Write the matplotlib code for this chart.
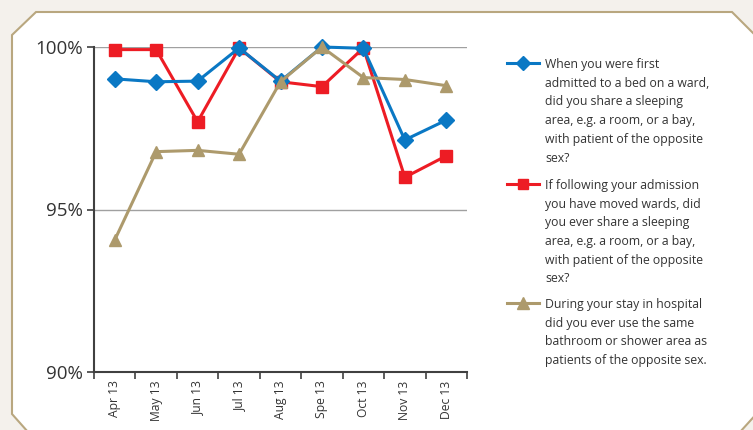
import matplotlib.pyplot as plt
from matplotlib.patches import Polygon
from matplotlib.lines import Line2D

plt.rcParams['font.family'] = ['Open Sans', 'DejaVu Sans']

months = ["Apr 13", "May 13", "Jun 13", "Jul 13", "Aug 13", "Spe 13", "Oct 13", "Nov 13", "Dec 13"]
first_bed = [99.02, 98.93, 98.95, 99.97, 98.95, 100.0, 99.96, 97.14, 97.75]
moved_wards = [99.92, 99.92, 97.70, 99.97, 98.93, 98.78, 99.97, 95.99, 96.65]
bathroom = [94.06, 96.78, 96.82, 96.70, 98.93, 100.0, 99.06, 99.00, 98.81]

labels = [
    "When you were first\nadmitted to a bed on a ward,\ndid you share a sleeping\narea, e.g. a room, or a bay,\nwith patient of the opposite\nsex?",
    "If following your admission\nyou have moved wards, did\nyou ever share a sleeping\narea, e.g. a room, or a bay,\nwith patient of the opposite\nsex?",
    "During your stay in hospital\ndid you ever use the same\nbathroom or shower area as\npatients of the opposite sex.",
]

W, H = 753, 430
fig = plt.figure(figsize=(W / 100, H / 100), dpi=100, facecolor='#f4f1ec')

# white panel with cut corners
pts = [(12, 35), (36, 12), (732, 12), (760, 40), (760, 410), (740, 432), (28, 432), (12, 414)]
fig.patches.append(Polygon([(x / W, 1 - y / H) for x, y in pts], closed=True,
                           transform=fig.transFigure, facecolor='white',
                           edgecolor='#b9a77f', linewidth=1.5, zorder=-5))

ax = fig.add_axes([94 / W, 1 - 372 / H, (467 - 94) / W, (372 - 47) / H])
ax.set_zorder(2)
ax.set_facecolor('none')

x = range(len(months))
styles = [
    (first_bed, '#0a78c4', 'D', 8, 4),
    (moved_wards, '#ed1c24', 's', 8, 3),
    (bathroom, '#ad9a6c', '^', 9, 5),
]
for vals, col, mk, ms, z in styles:
    ax.plot(x, vals, color=col, marker=mk, markersize=ms, linewidth=2.2, clip_on=False, zorder=z)

ax.set_xlim(-0.5, len(months) - 0.5)
ax.set_ylim(90, 100)
ax.set_yticks([90, 95, 100])
ax.set_yticklabels(["90%", "95%", "100%"], fontsize=13.5, color='#333333')
for yv in [95, 100]:
    ax.axhline(yv, color='#a0a0a0', linewidth=1, zorder=1)

ax.set_xticks([i - 0.5 for i in range(len(months) + 1)], minor=False)
ax.set_xticklabels([])
ax.set_xticks(list(x), minor=True)
ax.set_xticklabels(months, minor=True, rotation=90, fontsize=8.7, color='#333333')
ax.tick_params(axis='x', which='minor', length=0, pad=6)
ax.tick_params(axis='x', which='major', length=5, width=1.2, color='#404040', direction='out')
ax.tick_params(axis='y', length=5, width=1.2, color='#404040', pad=3)

for s in ['top', 'right']:
    ax.spines[s].set_visible(False)
for s in ['left', 'bottom']:
    ax.spines[s].set_color('#404040')
    ax.spines[s].set_linewidth(1.5)

# legend drawn by hand to match the wrapped labels
tops = [62.5, 183.5, 302.5]
for (vals, col, mk, ms, z), lab, ty in zip(styles, labels, tops):
    yf = 1 - ty / H
    fig.add_artist(Line2D([507 / W, 539 / W], [yf, yf], color=col, linewidth=2.2,
                          transform=fig.transFigure))
    fig.add_artist(Line2D([523 / W], [yf], color=col, marker=mk, markersize=ms - 1,
                          transform=fig.transFigure))
    fig.text(545 / W, 1 - (ty - 4.5) / H, lab, fontsize=8.8, color='#333333',
             va='top', ha='left', linespacing=1.57)

fig.savefig('out.png', dpi=100, facecolor=fig.get_facecolor())
